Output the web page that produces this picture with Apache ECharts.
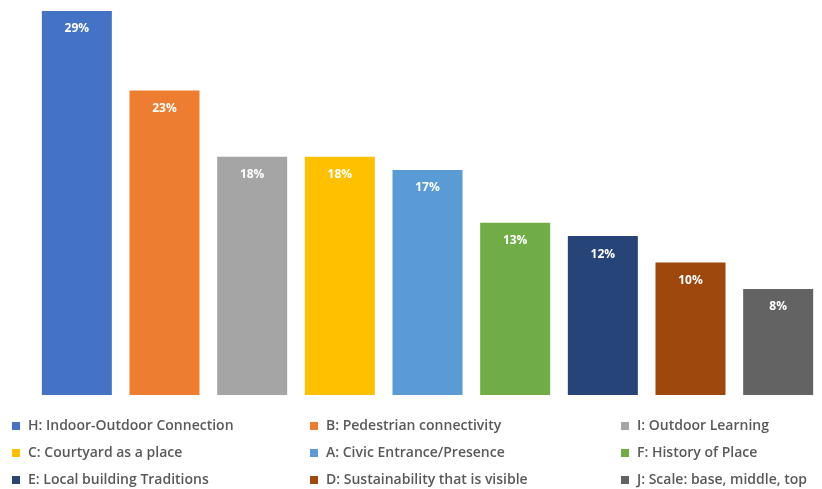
<!DOCTYPE html>
<html>
<head>
    <meta charset="utf-8" />
    <style>
        html, body { margin: 0; padding: 0; background: #fff; }
        #main { width: 822px; height: 489px; }
    </style>
    <script src="https://cdn.jsdelivr.net/npm/echarts@6/dist/echarts.min.js"></script>
</head>
<body>
    <div id="main"></div>
    <script type="text/javascript">
        // 各条目名称、数值和颜色
        var names = [
            "H: Indoor-Outdoor Connection",
            "B: Pedestrian connectivity",
            "I: Outdoor Learning",
            "C: Courtyard as a place",
            "A: Civic Entrance/Presence",
            "F: History of Place",
            "E: Local building Traditions",
            "D: Sustainability that is visible",
            "J: Scale: base, middle, top"
        ];
        var values = [29, 23, 18, 18, 17, 13, 12, 10, 8];
        var colors = ["#4472C4", "#ED7D31", "#A5A5A5", "#FFC000", "#5B9BD5", "#70AD47", "#264478", "#9E480E", "#636363"];

        var myChart = echarts.init(document.getElementById("main"));

        // 每个条目一个系列，只在自己的位置有值
        var series = names.map(function (name, i) {
            var data = values.map(function (v, j) { return j === i ? v : "-"; });
            return {
                name: name,
                type: "bar",
                stack: "all",
                barWidth: 70,
                data: data,
                itemStyle: { color: colors[i] },
                label: {
                    show: true,
                    position: "insideTop",
                    distance: 12,
                    formatter: "{c}%",
                    color: "#fff",
                    fontWeight: "bold",
                    fontSize: 12,
                    fontFamily: "Open Sans"
                }
            };
        });

        // 图例分三列
        function legendCol(left, idx) {
            return {
                orient: "vertical",
                left: left,
                top: 414,
                height: 90,
                icon: "rect",
                itemWidth: 8,
                itemHeight: 8,
                itemGap: 13,
                selectedMode: false,
                data: idx.map(function (i) { return names[i]; }),
                textStyle: {
                    color: "#595959",
                    fontSize: 14,
                    fontWeight: 600,
                    lineHeight: 14,
                    fontFamily: "Open Sans",
                    padding: [0, 0, 0, 3]
                }
            };
        }

        var option = {
            animation: false,
            grid: { left: 33, width: 792, top: 11, bottom: 94 },
            xAxis: {
                type: "category",
                data: names,
                show: false
            },
            yAxis: {
                type: "value",
                min: 0,
                max: 29,
                show: false
            },
            legend: [
                legendCol(7, [0, 3, 6]),
                legendCol(305, [1, 4, 7]),
                legendCol(616, [2, 5, 8])
            ],
            series: series
        };
        myChart.setOption(option);
    </script>
</body>
</html>
